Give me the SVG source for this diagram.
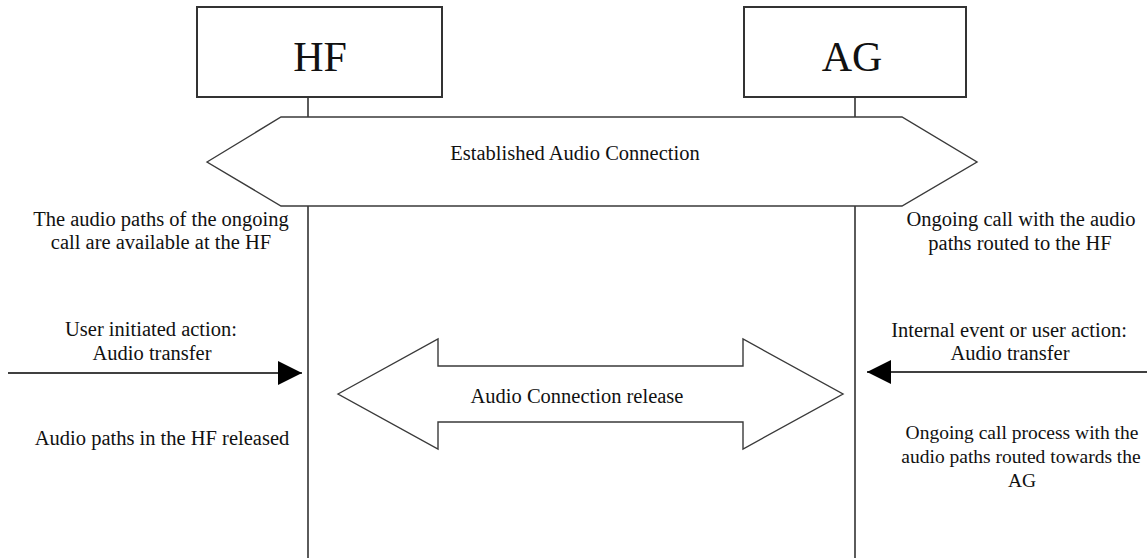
<svg xmlns="http://www.w3.org/2000/svg" width="1147" height="558" viewBox="0 0 1147 558">
  <style>
    .box { fill: #ffffff; stroke: #333333; stroke-width: 2; }
    .life { stroke: #333333; stroke-width: 1.6; fill: none; }
    .shape { fill: #ffffff; stroke: #3a3a3a; stroke-width: 1.4; stroke-linejoin: miter; }
    .msg { stroke: #000000; stroke-width: 1.6; fill: none; }
    .title { font-family: "Liberation Serif", "Times New Roman", serif; font-size: 42px; fill: #111111; text-anchor: middle; }
    .lbl { font-family: "Liberation Serif", "Times New Roman", serif; font-size: 20.5px; fill: #111111; text-anchor: middle; }
    .lbl-s { font-size: 19.5px; }
  </style>
  <defs>
    <marker id="ah" viewBox="0 0 24 24" markerWidth="24" markerHeight="24" refX="24" refY="12" orient="auto" markerUnits="userSpaceOnUse">
      <path d="M0,0 L24,12 L0,24 Z" fill="#000000"/>
    </marker>
  </defs>
  <rect width="1147" height="558" fill="#ffffff"/>

  <g id="lifelines">
    <line class="life" x1="308" y1="97" x2="308" y2="117"/>
    <line class="life" x1="308" y1="206" x2="308" y2="558"/>
    <line class="life" x1="855" y1="97" x2="855" y2="117"/>
    <line class="life" x1="855" y1="206" x2="855" y2="558"/>
  </g>

  <g id="node-hf">
    <rect class="box" x="197" y="7" width="245" height="90"/>
    <text class="title" x="320" y="71">HF</text>
  </g>

  <g id="node-ag">
    <rect class="box" x="744" y="7" width="222" height="90"/>
    <text class="title" x="852" y="71">AG</text>
  </g>

  <g id="node-established">
    <polygon class="shape" points="207,162 281,117 902,117 977,162 902,206 281,206"/>
    <text class="lbl" x="575" y="160">Established Audio Connection</text>
  </g>

  <g id="node-release">
    <polygon class="shape" points="338,394 438,339 438,366 743,366 743,339 843,394 743,449 743,422 438,422 438,449"/>
    <text class="lbl" x="577" y="403">Audio Connection release</text>
  </g>

  <g id="connectors">
    <line class="msg" x1="8" y1="373" x2="302" y2="373" marker-end="url(#ah)"/>
    <line class="msg" x1="1147" y1="372" x2="867" y2="372" marker-end="url(#ah)"/>
  </g>

  <g id="notes-hf">
    <text class="lbl" x="161" y="226">The audio paths of the ongoing</text>
    <text class="lbl" x="161" y="249">call are available at the HF</text>
    <text class="lbl" x="151" y="336">User initiated action:</text>
    <text class="lbl" x="152" y="360">Audio transfer</text>
    <text class="lbl" x="162" y="445">Audio paths in the HF released</text>
  </g>

  <g id="notes-ag">
    <text class="lbl" x="1021" y="226">Ongoing call with the audio</text>
    <text class="lbl" x="1020" y="250">paths routed to the HF</text>
    <text class="lbl" x="1009" y="337">Internal event or user action:</text>
    <text class="lbl" x="1010" y="360">Audio transfer</text>
    <text class="lbl lbl-s" x="1022" y="439">Ongoing call process with the</text>
    <text class="lbl lbl-s" x="1021" y="463">audio paths routed towards the</text>
    <text class="lbl lbl-s" x="1022" y="487">AG</text>
  </g>
</svg>
